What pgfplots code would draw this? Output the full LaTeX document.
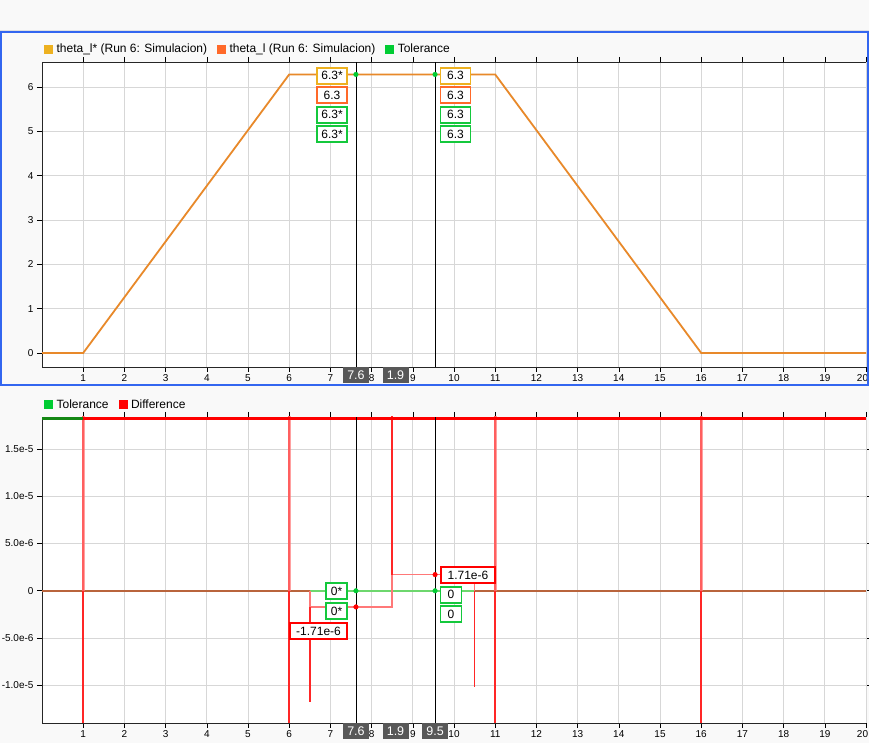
\documentclass[border=0pt]{standalone}
\usepackage{fontspec}
\setmainfont{Liberation Sans}
\usepackage{pgfplots}
\pgfplotsset{compat=1.18}
\definecolor{bgc}{RGB}{249,249,249}
\definecolor{blueb}{RGB}{51,102,240}
\definecolor{tlstar}{RGB}{237,177,32}
\definecolor{tl}{RGB}{255,105,41}
\definecolor{tol}{RGB}{0,204,51}
\definecolor{tolbox}{RGB}{20,200,60}
\definecolor{diffc}{RGB}{255,0,0}
\definecolor{linec}{RGB}{232,137,42}
\definecolor{brownc}{RGB}{185,100,60}
\definecolor{lgreen}{RGB}{110,215,110}
\definecolor{lred}{RGB}{255,120,120}
\definecolor{darkg}{RGB}{20,135,20}
\definecolor{gridc}{RGB}{215,215,215}
\definecolor{cursbox}{RGB}{88,88,88}

\pgfplotsset{
  sdi/.style={
    scale only axis, width=824pt,
    xmin=0, xmax=20, xtick={1,...,19},
    extra x ticks={20},
    extra x tick style={xticklabel style={xshift=-3.5pt}},
    axis background/.style={fill=white},
    grid=major, major grid style={gridc, line width=0.8pt},
    tick align=outside, major tick length=5pt,
    tick style={black, line width=0.6pt},
    axis line style={black!85, line width=0.8pt},
    ticklabel style={font=\fontsize{10}{12}\selectfont},
    /pgf/number format/assume math mode=true,
    xticklabel style={yshift=1pt},
    legend style={draw=none, fill=none, legend columns=-1, at={(0,1)}, anchor=west,
      inner sep=0pt, xshift=2pt,
      nodes={inner xsep=4pt, inner ysep=0pt},
      font=\fontsize{12}{14}\selectfont,
      /tikz/every even column/.append style={column sep=6pt}},
  },
}
\tikzset{
  lbl/.style={draw=#1, line width=1.8pt, fill=white, inner sep=0pt, minimum height=16pt,
    font=\fontsize{12}{14}\selectfont},
  curs/.style={fill=cursbox, text=white, anchor=north, minimum width=26pt, minimum height=16pt,
    inner sep=0pt, font=\fontsize{12.5}{14}\selectfont},
}

\begin{document}
\begin{tikzpicture}[x=1pt,y=1pt]
\useasboundingbox (0,0) rectangle (869,743);
\fill[bgc] (0,0) rectangle (869,743);
\draw[black!12] (0,713) -- (869,713);

% ---------- top axis ----------
\begin{axis}[sdi, at={(42pt,681pt)}, anchor=north west, height=305pt,
  ymin=-0.316, ymax=6.564, ytick={0,...,6},
  legend style={yshift=13pt}]
\addlegendimage{legend image code/.code={\fill[tlstar] (0pt,-4pt) rectangle (8pt,4pt);}}
\addlegendentry{theta\_l* (Run 6: Simulacion)}
\addlegendimage{legend image code/.code={\fill[tl] (0pt,-4pt) rectangle (8pt,4pt);}}
\addlegendentry{theta\_l (Run 6: Simulacion)}
\addlegendimage{legend image code/.code={\fill[tol] (0pt,-4pt) rectangle (8pt,4pt);}}
\addlegendentry{Tolerance}

\addplot[forget plot, linec, line width=1.8pt] coordinates {
  (0,0) (1,0) (6,6.2832) (11,6.2832) (16,0) (20,0)};

\draw[black, line width=0.8pt] ({rel axis cs:0,0} -| {axis cs:7.62,0}) -- ({rel axis cs:0,1} -| {axis cs:7.62,0});
\draw[black, line width=0.8pt] ({rel axis cs:0,0} -| {axis cs:9.54,0}) -- ({rel axis cs:0,1} -| {axis cs:9.54,0});

\addplot[forget plot, only marks, mark=*, mark size=2.3pt, tol] coordinates {(7.62,6.2832) (9.54,6.2832)};

\node[lbl=tlstar, anchor=east, minimum width=30pt, xshift=-8pt, yshift=-1.2pt] at (axis cs:7.62,6.2832) {6.3*};
\node[lbl=tl, anchor=east, minimum width=30pt, xshift=-8pt, yshift=-20.7pt] at (axis cs:7.62,6.2832) {6.3};
\node[lbl=tolbox, anchor=east, minimum width=30pt, xshift=-8pt, yshift=-40.2pt] at (axis cs:7.62,6.2832) {6.3*};
\node[lbl=tolbox, anchor=east, minimum width=30pt, xshift=-8pt, yshift=-59.7pt] at (axis cs:7.62,6.2832) {6.3*};

\node[lbl=tlstar, anchor=west, minimum width=30pt, xshift=4.5pt, yshift=-1.2pt] at (axis cs:9.54,6.2832) {6.3};
\node[lbl=tl, anchor=west, minimum width=30pt, xshift=4.5pt, yshift=-20.7pt] at (axis cs:9.54,6.2832) {6.3};
\node[lbl=tolbox, anchor=west, minimum width=30pt, xshift=4.5pt, yshift=-40.2pt] at (axis cs:9.54,6.2832) {6.3};
\node[lbl=tolbox, anchor=west, minimum width=30pt, xshift=4.5pt, yshift=-59.7pt] at (axis cs:9.54,6.2832) {6.3};

\coordinate (ta) at ({rel axis cs:0,0} -| {axis cs:7.62,0});
\coordinate (tb) at ({rel axis cs:0,0} -| {axis cs:8.58,0});
\end{axis}

\node[curs] at (ta) {7.6};
\node[curs] at (tb) {1.9};

\draw[blueb, line width=2pt] (1,711) rectangle (868,358);

% ---------- bottom axis ----------
\begin{axis}[sdi, at={(42pt,326pt)}, anchor=north west, height=306pt,
  ymin=-1.40e-5, ymax=1.84e-5, scaled y ticks=false,
  ytick={-1e-5,-5e-6,0,5e-6,1e-5,1.5e-5},
  yticklabels={-1.0e-5,-5.0e-6,0,5.0e-6,1.0e-5,1.5e-5},
  legend style={yshift=12.5pt}]
\addlegendimage{legend image code/.code={\fill[tol] (0pt,-4pt) rectangle (8pt,4pt);}}
\addlegendentry{Tolerance}
\addlegendimage{legend image code/.code={\fill[diffc] (0pt,-4pt) rectangle (8pt,4pt);}}
\addlegendentry{Difference}

% zero line (tolerance and difference overlapping)
\addplot[forget plot, brownc, line width=1.8pt] coordinates {(0,0) (6.5,0)};
\addplot[forget plot, brownc, line width=1.8pt] coordinates {(10.5,0) (20,0)};
\addplot[forget plot, lgreen, line width=1.5pt] coordinates {(6.5,0) (10.5,0)};
% difference step
\addplot[forget plot, lred, line width=1.5pt] coordinates {
  (6.5,0) (6.5,-1.71e-6) (8.5,-1.71e-6) (8.5,1.71e-6) (10.5,1.71e-6) (10.5,0)};
% spikes
\addplot[forget plot, diffc!85, line width=1.5pt] coordinates {(1,-3e-5) (1,3e-5)};
\addplot[forget plot, diffc!85, line width=1.5pt] coordinates {(6,-3e-5) (6,3e-5)};
\addplot[forget plot, diffc!85, line width=1.5pt] coordinates {(11,-3e-5) (11,3e-5)};
\addplot[forget plot, diffc!85, line width=1.5pt] coordinates {(16,-3e-5) (16,3e-5)};
\addplot[forget plot, lred, opacity=0.7, line width=3pt] coordinates {(1,0) (1,3e-5)};
\addplot[forget plot, lred, opacity=0.7, line width=3pt] coordinates {(6,0) (6,3e-5)};
\addplot[forget plot, lred, opacity=0.7, line width=3pt] coordinates {(11,0) (11,3e-5)};
\addplot[forget plot, lred, opacity=0.7, line width=3pt] coordinates {(16,0) (16,3e-5)};
\addplot[forget plot, diffc!85, line width=1.5pt] coordinates {(6.5,-1.71e-6) (6.5,-1.18e-5)};
\addplot[forget plot, diffc!85, line width=1.5pt] coordinates {(8.5,1.71e-6) (8.5,3e-5)};
\addplot[forget plot, diffc!85, line width=1.5pt] coordinates {(10.5,0) (10.5,-1.02e-5)};
% top tolerance / violation line
\addplot[forget plot, darkg, line width=3pt] coordinates {(0,1.82e-5) (1,1.82e-5)};
\addplot[forget plot, diffc, line width=3pt] coordinates {(1,1.82e-5) (20,1.82e-5)};

\draw[black, line width=0.8pt] ({rel axis cs:0,0} -| {axis cs:7.62,0}) -- ({rel axis cs:0,1} -| {axis cs:7.62,0});
\draw[black, line width=0.8pt] ({rel axis cs:0,0} -| {axis cs:9.54,0}) -- ({rel axis cs:0,1} -| {axis cs:9.54,0});

\addplot[forget plot, only marks, mark=*, mark size=2.3pt, tol] coordinates {(7.62,0) (9.54,0)};
\addplot[forget plot, only marks, mark=*, mark size=2.3pt, diffc] coordinates {(7.62,-1.71e-6) (9.54,1.71e-6)};

\node[lbl=tolbox, anchor=east, minimum width=21pt, xshift=-8pt, yshift=-0.5pt] at (axis cs:7.62,0) {0*};
\node[lbl=tolbox, anchor=east, minimum width=21pt, xshift=-8pt, yshift=-20.5pt] at (axis cs:7.62,0) {0*};
\node[lbl=diffc, anchor=east, minimum width=57pt, xshift=-8pt, yshift=-40.2pt] at (axis cs:7.62,0) {-1.71e-6};

\node[lbl=diffc, anchor=west, minimum width=54pt, xshift=5pt, yshift=15.4pt] at (axis cs:9.54,0) {1.71e-6};
\node[lbl=tolbox, anchor=west, minimum width=21pt, xshift=4.5pt, yshift=-4pt] at (axis cs:9.54,0) {0};
\node[lbl=tolbox, anchor=west, minimum width=21pt, xshift=4.5pt, yshift=-23.3pt] at (axis cs:9.54,0) {0};

\coordinate (ba) at ({rel axis cs:0,0} -| {axis cs:7.62,0});
\coordinate (bb) at ({rel axis cs:0,0} -| {axis cs:8.58,0});
\coordinate (bc) at ({rel axis cs:0,0} -| {axis cs:9.54,0});
\end{axis}

\node[curs] at (ba) {7.6};
\node[curs] at (bb) {1.9};
\node[curs] at (bc) {9.5};
\end{tikzpicture}
\end{document}
